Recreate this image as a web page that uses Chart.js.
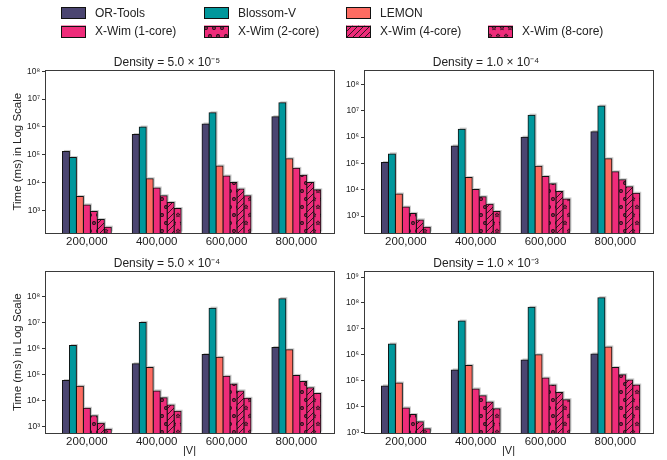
<!DOCTYPE html>
<html>
<head>
<meta charset="utf-8">
<script src="https://cdn.jsdelivr.net/npm/chart.js@4.4.1/dist/chart.umd.min.js"></script>
<style>
  html, body { margin: 0; padding: 0; background: #fff; }
  #wrap { position: relative; width: 667px; height: 460px; overflow: hidden; }
  canvas { position: absolute; }
</style>
</head>
<body>
<div id="wrap">
  <canvas id="legend" width="667" height="46" style="left:0;top:0"></canvas>
  <canvas id="c0" width="336" height="200" style="left:0;top:51px"></canvas>
  <canvas id="c1" width="336" height="200" style="left:319px;top:51px"></canvas>
  <canvas id="c2" width="336" height="208" style="left:0;top:252px"></canvas>
  <canvas id="c3" width="336" height="208" style="left:319px;top:252px"></canvas>
</div>
<script>
const sizeLabels = ['200,000', '400,000', '600,000', '800,000'];
const densityTitles = ['Density = 5.0 × 10⁻⁵', 'Density = 1.0 × 10⁻⁴', 'Density = 5.0 × 10⁻⁴', 'Density = 1.0 × 10⁻³'];
const seriesNames = ['OR-Tools', 'Blossom-V', 'LEMON', 'X-Wim (1-core)', 'X-Wim (2-core)', 'X-Wim (4-core)', 'X-Wim (8-core)'];

// time in ms, one row per density panel, one value per |V|
const orTools   = [[1.3e5, 5.3e5, 1.26e6, 2.3e6], [1.08e5, 4.6e5, 9.9e5, 1.6e6], [6.0e4, 2.6e5, 5.9e5, 1.1e6], [6.3e4, 2.6e5, 6.3e5, 1.07e6]];
const blossomV  = [[7.8e4, 9.8e5, 3.2e6, 7.3e6], [2.3e5, 2.0e6, 6.8e6, 1.5e7], [1.3e6, 1.0e7, 3.5e7, 8.1e7], [2.6e6, 2.0e7, 6.8e7, 1.6e8]];
const lemon     = [[3.1e3, 1.35e4, 3.9e4, 7.1e4], [6.9e3, 2.9e4, 7.8e4, 1.5e5], [3.6e4, 1.9e5, 4.6e5, 8.9e5], [8.1e4, 3.9e5, 1.0e6, 2.0e6]];
const xwim1     = [[1.55e3, 6.3e3, 1.7e4, 3.2e4], [2.2e3, 1.02e4, 3.2e4, 4.8e4], [5.2e3, 2.4e4, 8.7e4, 9.4e4], [8.9e3, 4.8e4, 1.26e5, 3.2e5]];
const xwim2     = [[900, 3.3e3, 1.0e4, 1.8e4], [1.27e3, 5.4e3, 1.7e4, 2.4e4], [2.7e3, 1.3e4, 4.4e4, 5.5e4], [4.9e3, 2.6e4, 6.8e4, 1.7e5]];
const xwim4     = [[460, 1.9e3, 5.8e3, 1.0e4], [720, 2.8e3, 8.6e3, 1.3e4], [1.4e3, 6.9e3, 2.4e4, 3.2e4], [2.6e3, 1.5e4, 3.5e4, 1.07e5]];
const xwim8     = [[245, 1.15e3, 3.3e3, 5.4e3], [375, 1.5e3, 4.5e3, 7.4e3], [820, 4.0e3, 1.25e4, 1.9e4], [1.4e3, 8.2e3, 1.85e4, 6.8e4]];

const allSeries = [orTools, blossomV, lemon, xwim1, xwim2, xwim4, xwim8];

// axis ranges (log10) per panel
const yLogMin = [2.18, 2.36, 2.77, 2.98];
const yLogMax = [8.03, 8.53, 8.95, 9.22];

const FONT = "'Liberation Sans', Arial, sans-serif";
const TEXT = '#222';
const PINK = '#ee2c7a';

Chart.defaults.font.family = FONT;
Chart.defaults.color = TEXT;

function hatch(kind) {
  const c = document.createElement('canvas');
  const w = kind === '/' ? 6 : 8, h = kind === '/' ? 6 : 16;
  c.width = w; c.height = h;
  const g = c.getContext('2d');
  g.fillStyle = PINK;
  g.fillRect(0, 0, w, h);
  g.strokeStyle = '#111';
  const spots = [[2, 4], [6, 12]];
  if (kind === '/') {
    g.lineWidth = 0.85;
    g.beginPath();
    g.moveTo(0, h); g.lineTo(w, 0);
    g.moveTo(-1, 1); g.lineTo(1, -1);
    g.moveTo(w - 1, h + 1); g.lineTo(w + 1, h - 1);
    g.stroke();
  } else if (kind === 'o') {
    g.lineWidth = 1.1;
    spots.forEach(([x, y]) => {
      g.beginPath(); g.arc(x, y, 1.4, 0, Math.PI * 2); g.stroke();
    });
  } else {
    g.lineWidth = 0.75;
    spots.forEach(([x, y]) => {
      g.beginPath();
      for (let k = 0; k < 10; k++) {
        const r = k % 2 ? 0.9 : 2.2;
        const a = -Math.PI / 2 + k * Math.PI / 5;
        const px = x + r * Math.cos(a), py = y + r * Math.sin(a);
        k ? g.lineTo(px, py) : g.moveTo(px, py);
      }
      g.closePath(); g.stroke();
    });
  }
  return g.createPattern(c, 'repeat');
}

function fills() {
  return ['#4b4571', '#00979c', '#fd6c62', PINK, hatch('o'), hatch('/'), hatch('*')];
}

const SUP = { '-': '⁻', '0': '⁰', '1': '¹', '2': '²', '3': '³', '4': '⁴', '5': '⁵', '6': '⁶', '7': '⁷', '8': '⁸', '9': '⁹' };
const fmtPow = (v) => '10' + String(Math.round(Math.log10(v))).split('').map(ch => SUP[ch]).join('');

const framePlugin = {
  id: 'frame',
  afterDraw(chart) {
    const { ctx, chartArea: a } = chart;
    ctx.save();
    ctx.strokeStyle = '#3a3a3a';
    ctx.lineWidth = 1;
    const l = Math.round(a.left) + 0.5, t = Math.round(a.top) + 0.5;
    ctx.strokeRect(l, t, Math.round(a.right) - Math.round(a.left), Math.round(a.bottom) - Math.round(a.top));
    ctx.restore();
  },
};

const shadowPlugin = {
  id: 'barShadow',
  beforeDatasetsDraw(chart) {
    const { ctx, chartArea: a } = chart;
    ctx.save();
    ctx.beginPath();
    ctx.rect(a.left, a.top, a.right - a.left, a.bottom - a.top);
    ctx.clip();
    ctx.fillStyle = '#c8c8c8';
    chart.getSortedVisibleDatasetMetas().forEach((meta) => {
      meta.data.forEach((el) => {
        const { x, y, base, width } = el.getProps(['x', 'y', 'base', 'width'], true);
        ctx.fillRect(x - width / 2 + 1.5, y - 1.5, width, base - y);
      });
    });
    ctx.restore();
  },
};

function makePanel(p) {
  const canvas = document.getElementById('c' + p);
  const colors = fills();
  const leftCol = p % 2 === 0;
  const bottomRow = p >= 2;
  const datasets = allSeries.map((s, k) => ({
    label: seriesNames[k],
    data: s[p].map((v, i) => ({ x: i, y: v })),
    backgroundColor: colors[k],
    borderColor: '#111',
    borderWidth: 1,
    inflateAmount: 0.5,
    categoryPercentage: 0.7,
    barPercentage: 1,
  }));
  const lo = Math.pow(10, yLogMin[p]), hi = Math.pow(10, yLogMax[p]);
  new Chart(canvas, {
    type: 'bar',
    data: { datasets },
    plugins: [shadowPlugin, framePlugin],
    options: {
      responsive: false,
      animation: false,
      events: [],
      layout: { padding: { left: 0, right: 2, top: 0, bottom: 0 } },
      plugins: {
        legend: { display: false },
        tooltip: { enabled: false },
        title: { display: true, text: densityTitles[p], font: { size: 12, weight: 'normal' }, color: TEXT, padding: { top: 4, bottom: 1 } },
      },
      scales: {
        x: {
          type: 'linear',
          offset: false,
          min: -0.6,
          max: 3.54,
          afterBuildTicks: (s) => { s.ticks = sizeLabels.map((_, i) => ({ value: i })); },
          afterFit: (s) => { s.height = bottomRow ? 27 : 18; },
          grid: { display: false, drawTicks: false, offset: false },
          border: { display: false },
          ticks: { callback: (v) => sizeLabels[v], font: { size: 11.5 }, color: TEXT, padding: 2, maxRotation: 0, autoSkip: false },
          title: { display: bottomRow, text: '|V|', font: { size: 11 }, color: TEXT, padding: { top: 0, bottom: 2 } },
        },
        y: {
          type: 'logarithmic',
          min: lo,
          max: hi,
          bounds: 'data',
          afterBuildTicks: (s) => {
            const t = [];
            for (let e = Math.ceil(yLogMin[p]); e <= Math.floor(yLogMax[p] + 1e-9); e++) t.push({ value: Math.pow(10, e) });
            s.ticks = t;
          },
          afterFit: (s) => { s.width = 45; },
          grid: { drawOnChartArea: false, drawTicks: true, tickLength: 3, color: '#333' },
          border: { display: false },
          ticks: { callback: (v) => fmtPow(v), font: { size: 8.5 }, color: TEXT, padding: 2, autoSkip: false },
          title: { display: leftCol, text: 'Time (ms) in Log Scale', font: { size: 11.5 }, color: TEXT, padding: { top: 11, bottom: 0 } },
        },
      },
    },
  });
}

[0, 1, 2, 3].forEach(makePanel);

// legend
(function drawLegend() {
  const canvas = document.getElementById('legend');
  const g = canvas.getContext('2d');
  const colors = fills();
  const cols = [61, 204, 346, 488];
  const rows = [13, 31.5];
  const slots = [[0, 0], [1, 0], [2, 0], [0, 1], [1, 1], [2, 1], [3, 1]];
  g.font = '12px ' + FONT;
  g.textBaseline = 'middle';
  seriesNames.forEach((name, k) => {
    const x = cols[slots[k][0]], y = rows[slots[k][1]];
    g.fillStyle = colors[k];
    g.fillRect(x, y - 6, 25, 12);
    g.strokeStyle = '#111';
    g.lineWidth = 1;
    g.strokeRect(x + 0.5, Math.round(y - 6) + 0.5, 24, 11);
    g.fillStyle = TEXT;
    g.fillText(name, x + 34, y + 0.5);
  });
})();
</script>
</body>
</html>
